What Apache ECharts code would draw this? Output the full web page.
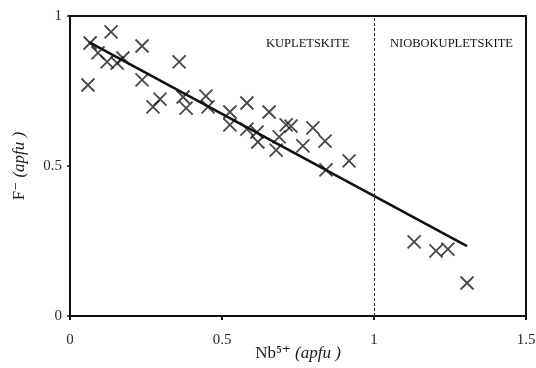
<!DOCTYPE html>
<html>
<head>
<meta charset="utf-8">
<script src="https://cdn.jsdelivr.net/npm/echarts@6/dist/echarts.min.js"></script>
<style>
  html, body { margin: 0; padding: 0; background: #fff; }
  #chart { width: 536px; height: 368px; }
</style>
</head>
<body>
<div id="chart"></div>
<script>
// Nb5+ vs F- (apfu)
const nbValues = [
  0.059, 0.066, 0.135, 0.092, 0.122, 0.155, 0.174, 0.237, 0.237, 0.273,
  0.296, 0.359, 0.372, 0.382, 0.447, 0.454, 0.526, 0.526, 0.582, 0.582,
  0.615, 0.618, 0.655, 0.711, 0.727, 0.688, 0.678, 0.766, 0.799, 0.839,
  0.918, 0.842,
  1.132, 1.204, 1.243, 1.306
];
const fValues = [
  0.770, 0.910, 0.947, 0.877, 0.847, 0.843, 0.860, 0.900, 0.787, 0.697,
  0.723, 0.847, 0.730, 0.693, 0.733, 0.697, 0.680, 0.637, 0.710, 0.623,
  0.613, 0.580, 0.680, 0.637, 0.633, 0.597, 0.553, 0.567, 0.627, 0.583,
  0.517, 0.487,
  0.247, 0.217, 0.223, 0.110
];
// regression line end points
const fitX = [0.0625, 1.306];
const fitY = [0.913, 0.233];
const boundaryNb = 1;
const xTicks = [0, 0.5, 1, 1.5];
const yTicks = [0, 0.5, 1];
const fieldNames = ['KUPLETSKITE', 'NIOBOKUPLETSKITE'];

const serif = '"Liberation Serif", "DejaVu Serif", serif';
const chart = echarts.init(document.getElementById('chart'));

const points = nbValues.map((x, i) => [x, fValues[i]]);
const fitLine = fitX.map((x, i) => [x, fitY[i]]);

chart.setOption({
  animation: false,
  grid: {
    left: 70, right: 10, top: 16, bottom: 52,
    outerBoundsMode: 'none',
    show: true, borderColor: '#111', borderWidth: 2
  },
  xAxis: {
    type: 'value',
    min: 0, max: 1.5, interval: 0.5,
    name: 'Nb⁵⁺ {it|(apfu )}',
    nameLocation: 'middle',
    nameGap: 29,
    nameMoveOverlap: false,
    nameTextStyle: {
      fontFamily: serif, fontSize: 17, color: '#1a1a1a',
      rich: { it: { fontFamily: serif, fontSize: 17, fontStyle: 'italic', color: '#1a1a1a' } }
    },
    axisLine: { show: true, lineStyle: { color: '#111', width: 2 } },
    axisTick: { show: true, length: 4, lineStyle: { color: '#111', width: 2 } },
    splitLine: { show: false },
    axisLabel: {
      fontFamily: serif, fontSize: 15, color: '#2a2a2a', margin: 17,
      formatter: v => xTicks.includes(v) ? String(v) : ''
    }
  },
  yAxis: {
    type: 'value',
    min: 0, max: 1, interval: 0.5,
    name: 'F⁻ {it|(apfu )}',
    nameLocation: 'middle',
    nameGap: 42,
    nameMoveOverlap: false,
    nameRotate: 90,
    nameTextStyle: {
      fontFamily: serif, fontSize: 17, color: '#1a1a1a',
      rich: { it: { fontFamily: serif, fontSize: 17, fontStyle: 'italic', color: '#1a1a1a' } }
    },
    axisLine: { show: true, lineStyle: { color: '#111', width: 2 } },
    axisTick: { show: true, length: 3, lineStyle: { color: '#111', width: 1.5 } },
    splitLine: { show: false },
    axisLabel: {
      fontFamily: serif, fontSize: 15, color: '#2a2a2a', margin: 8,
      formatter: v => yTicks.includes(v) ? String(v) : ''
    }
  },
  series: [
    {
      type: 'scatter',
      data: points,
      symbol: 'path://M0,0L10,10M10,0L0,10',
      symbolSize: 13,
      itemStyle: { color: 'rgba(0,0,0,0)', borderColor: '#1a1a1a', borderWidth: 1.8 },
      z: 3
    },
    {
      type: 'line',
      data: fitLine,
      symbol: 'none',
      lineStyle: { color: '#111', width: 2.6 },
      z: 4,
      markLine: {
        silent: true,
        symbol: 'none',
        label: { show: false },
        lineStyle: { color: '#222', width: 1, type: [3, 2] },
        data: [{ xAxis: boundaryNb }]
      }
    }
  ],
  graphic: [
    {
      type: 'text', left: 266, top: 37,
      style: { text: fieldNames[0], fontFamily: serif, fontSize: 12.5, fill: '#111' }
    },
    {
      type: 'text', left: 390, top: 37,
      style: { text: fieldNames[1], fontFamily: serif, fontSize: 12.5, fill: '#111' }
    }
  ]
});
</script>
</body>
</html>
